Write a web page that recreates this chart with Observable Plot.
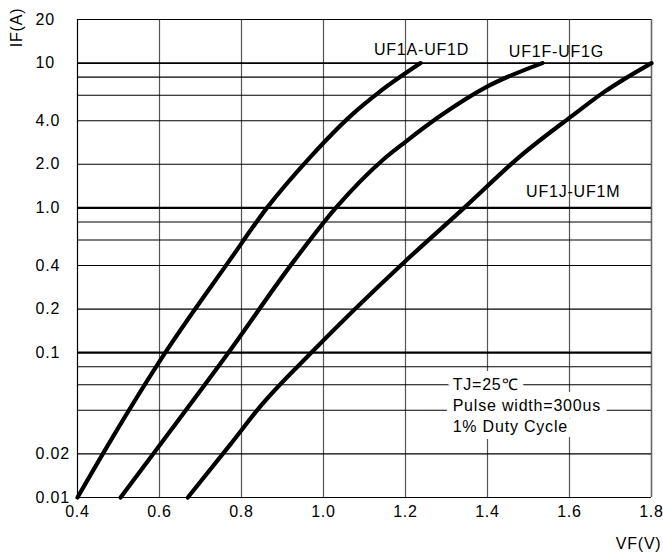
<!DOCTYPE html>
<html>
<head>
<meta charset="utf-8">
<script src="https://cdn.jsdelivr.net/npm/d3@7"></script>
<script src="https://cdn.jsdelivr.net/npm/@observablehq/plot@0.6"></script>
<style>
  html, body { margin: 0; padding: 0; background: #fff; overflow: hidden; }
  svg text { letter-spacing: 0.8px; }
</style>
</head>
<body>
<div id="chart"></div>
<script>
// ---- data ----
const seriesNames = ["UF1A-UF1D", "UF1F-UF1G", "UF1J-UF1M"];

const vfA = [0.400, 0.474, 0.614, 0.771, 0.862, 0.970, 1.067, 1.136, 1.237];
const ifA = [0.010, 0.0229, 0.100, 0.434, 1.00, 2.28, 4.34, 6.30, 10.0];

const vfF = [0.505, 0.600, 0.768, 0.929, 1.030, 1.146, 1.200, 1.286, 1.400, 1.534];
const ifF = [0.010, 0.0229, 0.100, 0.434, 1.00, 2.16, 2.86, 4.34, 6.90, 10.0];

const vfJ = [0.669, 0.771, 0.848, 0.970, 1.200, 1.343, 1.480, 1.607, 1.684, 1.800];
const ifJ = [0.010, 0.0229, 0.0433, 0.100, 0.430, 1.00, 2.28, 4.34, 6.30, 10.0];

const xTicks = [0.4, 0.6, 0.8, 1.0, 1.2, 1.4, 1.6, 1.8];
const yGridMinor = [0.01, 0.02, 0.04, 0.06, 0.08, 0.2, 0.4, 0.6, 0.8, 2, 4, 6, 8, 20];
const yGridMajor = [0.1, 1];
const yGridTen = [10];
const yTickValues = [0.01, 0.02, 0.1, 0.2, 0.4, 1, 2, 4, 10, 20];
const yTickLabels = ["0.01", "0.02", "0.1", "0.2", "0.4", "1.0", "2.0", "4.0", "10", "20"];

const curveLabels = [
  {text: "UF1A-UF1D", vf: 1.123, i: 12.3},
  {text: "UF1F-UF1G", vf: 1.452, i: 12.0},
  {text: "UF1J-UF1M", vf: 1.494, i: 1.28}
];
const noteText = ["TJ=25\u2103", "Pulse width=300us", "1% Duty Cycle"];
const noteVF = 1.315, noteIF = 0.0441;

// ---- build tidy table ----
const curves = [];
[[vfA, ifA], [vfF, ifF], [vfJ, ifJ]].forEach(([vs, is], k) => {
  vs.forEach((v, j) => curves.push({series: seriesNames[k], vf: v, if: is[j]}));
});
const labelMap = new Map(yTickValues.map((v, i) => [v, yTickLabels[i]]));

const FONT = "'Liberation Sans', Arial, Helvetica, sans-serif";

const chart = Plot.plot({
  width: 663,
  height: 554,
  marginLeft: 77,
  marginRight: 12,
  marginTop: 19,
  marginBottom: 57,
  style: {fontFamily: FONT, fontSize: "16px", background: "#fff", color: "#000"},
  x: {domain: [0.4, 1.8]},
  y: {type: "log", domain: [0.01, 20]},
  marks: [
    // vertical grid
    Plot.ruleX(xTicks.slice(1, -1), {stroke: "#555", strokeWidth: 1.2}),
    Plot.ruleX([1.8], {stroke: "#666", strokeWidth: 1.6}),
    Plot.ruleX([0.4], {stroke: "#000", strokeWidth: 1.2}),
    // horizontal grid
    Plot.ruleY(yGridMinor, {stroke: "#000", strokeWidth: 1.1}),
    Plot.ruleY(yGridTen, {stroke: "#000", strokeWidth: 1.6}),
    Plot.ruleY(yGridMajor, {stroke: "#000", strokeWidth: 2.2}),
    // annotation box (white halo)
    Plot.text([noteText.join("\n")], {
      x: () => noteVF, y: () => noteIF, text: d => d,
      textAnchor: "start", lineAnchor: "middle", lineHeight: 1.33,
      fontSize: 16, fill: "#000", stroke: "white", strokeWidth: 14, fontFamily: FONT
    }),
    // curves
    Plot.line(curves, {
      x: "vf", y: "if", z: "series", stroke: "#000", strokeWidth: 4.2,
      strokeLinejoin: "round", strokeLinecap: "round", curve: "monotone-x"
    }),
    // curve labels
    Plot.text(curveLabels, {
      x: "vf", y: "i", text: "text", textAnchor: "start", lineAnchor: "middle",
      fontSize: 16, fill: "#000", fontFamily: FONT
    }),
    // axes
    Plot.axisX(xTicks, {
      tickSize: 0, tickPadding: 8, fontSize: 16, tickFormat: d3.format(".1f"), label: null
    }),
    Plot.axisY(yTickValues, {
      tickSize: 0, tickPadding: 42, textAnchor: "start", fontSize: 16,
      tickFormat: d => labelMap.get(d), label: null
    }),
    // axis titles
    Plot.text(["IF(A)"], {
      text: d => d, frameAnchor: "top-left", dx: -61, dy: 8, rotate: -90,
      textAnchor: "middle", lineAnchor: "middle", fontSize: 16, fill: "#000"
    }),
    Plot.text(["VF(V)"], {
      text: d => d, frameAnchor: "bottom-right", dx: 10, dy: 46,
      textAnchor: "end", lineAnchor: "middle", fontSize: 16, fill: "#000"
    })
  ]
});

document.getElementById("chart").appendChild(chart);
</script>
</body>
</html>
